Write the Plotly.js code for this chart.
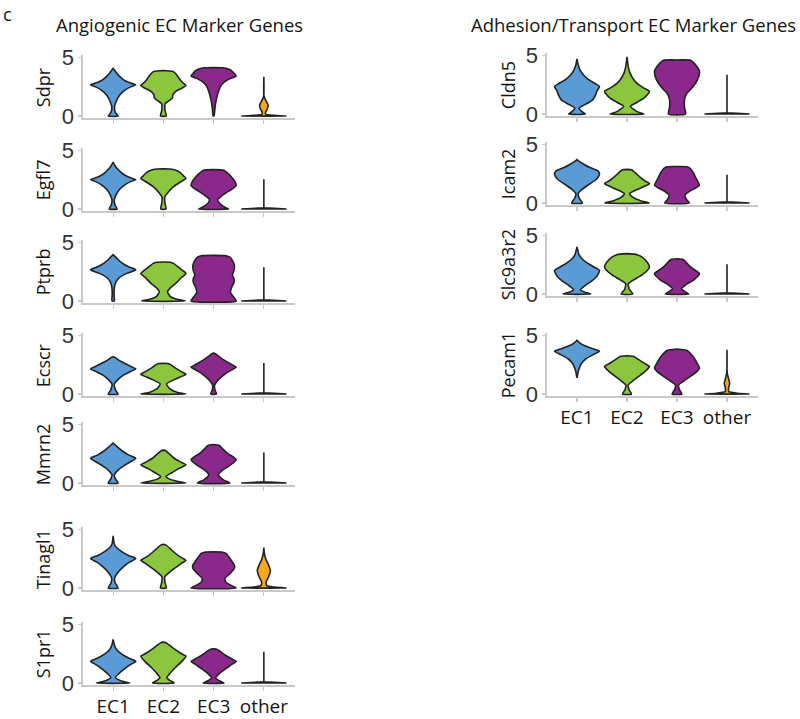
<!DOCTYPE html>
<html><head><meta charset="utf-8">
<script src="https://cdn.plot.ly/plotly-3.0.1.min.js"></script>
<style>html,body{margin:0;padding:0;background:#fff}#chart{width:800px;height:719px}</style>
</head><body><div id="chart"></div>
<script>
// ---------- data ----------
const groups = ["EC1", "EC2", "EC3", "other"];
const leftGenes = ["Sdpr", "Egfl7", "Ptprb", "Ecscr", "Mmrn2", "Tinagl1", "S1pr1"];
const rightGenes = ["Cldn5", "Icam2", "Slc9a3r2", "Pecam1"];
const leftTitle = "Angiogenic EC Marker Genes";
const rightTitle = "Adhesion/Transport EC Marker Genes";
const yTicks = [0, 5];

// violin density profiles: [expression level, relative half-width] from bottom to top, per group
const Sdpr = [
  [[0,0.22],[0.3,0.1],[0.8,0.06],[1.3,0.15],[1.8,0.3],[2.2,0.52],[2.5,0.8],[2.65,1.0],[2.85,0.7],[3.1,0.45],[3.5,0.22],[3.8,0.1],[4.05,0]],
  [[0,0.13],[0.5,0.07],[1.05,0.08],[1.3,0.25],[1.55,0.4],[1.8,0.42],[2.1,0.55],[2.4,0.85],[2.6,1.0],[2.85,0.85],[3.2,0.7],[3.6,0.55],[3.8,0.4],[3.87,0]],
  [[0,0.02],[0.5,0.05],[1.0,0.08],[1.5,0.13],[2.0,0.2],[2.5,0.3],[2.9,0.48],[3.2,0.75],[3.4,1.0],[3.6,0.92],[3.85,0.8],[4.0,0.65],[4.1,0.4],[4.12,0]],
  [[0,1.0],[0.06,0.45],[0.15,0.08],[0.35,0.08],[0.6,0.15],[0.9,0.19],[1.2,0.12],[1.5,0.04],[1.8,0],[3.35,0]]
];
const Egfl7 = [
  [[0,0.18],[0.35,0.08],[0.75,0.05],[1.2,0.13],[1.7,0.3],[2.1,0.55],[2.35,0.8],[2.5,1.0],[2.7,0.7],[3.0,0.42],[3.4,0.2],[3.7,0.08],[4.0,0]],
  [[0,0.12],[0.5,0.07],[1.0,0.06],[1.4,0.2],[1.9,0.45],[2.3,0.75],[2.6,1.0],[2.8,0.9],[3.1,0.75],[3.3,0.55],[3.4,0.3],[3.42,0]],
  [[0,0.66],[0.2,0.45],[0.5,0.25],[0.8,0.18],[1.1,0.35],[1.5,0.65],[1.85,0.92],[2.0,1.0],[2.3,0.95],[2.7,0.8],[3.05,0.62],[3.3,0.45],[3.35,0]],
  [[0,1.0],[0.05,0.45],[0.1,0],[2.53,0]]
];
const Ptprb = [
  [[0,0.05],[0.6,0.04],[1.2,0.06],[1.6,0.12],[2.0,0.28],[2.35,0.6],[2.65,1.0],[2.9,0.7],[3.2,0.42],[3.55,0.2],[3.8,0.08],[3.95,0]],
  [[0,0.96],[0.15,0.6],[0.4,0.3],[0.8,0.18],[1.1,0.3],[1.5,0.55],[2.0,0.8],[2.35,1.0],[2.6,0.85],[2.9,0.65],[3.2,0.45],[3.3,0.3],[3.32,0]],
  [[0,1.0],[0.3,0.9],[0.7,0.75],[1.1,0.78],[1.6,0.9],[1.9,0.9],[2.2,0.83],[2.6,0.9],[3.0,0.92],[3.4,0.85],[3.75,0.7],[3.86,0.5],[3.88,0]],
  [[0,1.0],[0.05,0.45],[0.1,0],[2.88,0]]
];
const Ecscr = [
  [[0,0.22],[0.35,0.1],[0.85,0.05],[1.2,0.2],[1.6,0.45],[1.95,0.8],[2.15,1.0],[2.4,0.72],[2.7,0.42],[2.95,0.2],[3.15,0.05],[3.17,0]],
  [[0,1.0],[0.15,0.6],[0.45,0.28],[0.85,0.14],[1.15,0.4],[1.45,0.75],[1.68,1.0],[1.95,0.75],[2.25,0.5],[2.5,0.32],[2.6,0.2],[2.62,0]],
  [[0,0.13],[0.35,0.06],[0.75,0.04],[1.2,0.2],[1.7,0.5],[2.05,0.8],[2.3,1.0],[2.55,0.75],[2.9,0.45],[3.25,0.2],[3.45,0.06],[3.5,0]],
  [[0,1.0],[0.05,0.45],[0.1,0],[2.64,0]]
];
const Mmrn2 = [
  [[0,0.22],[0.35,0.1],[0.7,0.05],[1.1,0.22],[1.5,0.5],[1.85,0.8],[2.1,1.0],[2.35,0.72],[2.7,0.42],[3.05,0.2],[3.3,0.06],[3.4,0]],
  [[0,1.0],[0.15,0.6],[0.35,0.25],[0.55,0.12],[0.85,0.35],[1.2,0.65],[1.55,1.0],[1.8,0.75],[2.15,0.45],[2.5,0.25],[2.75,0.1],[2.8,0]],
  [[0,0.72],[0.25,0.45],[0.55,0.25],[0.75,0.22],[1.1,0.4],[1.5,0.72],[1.98,1.0],[2.2,0.88],[2.55,0.6],[2.9,0.4],[3.2,0.25],[3.28,0]],
  [[0,1.0],[0.05,0.45],[0.1,0],[2.6,0]]
];
const Tinagl1 = [
  [[0,0.22],[0.4,0.1],[0.8,0.06],[1.3,0.2],[1.8,0.45],[2.2,0.72],[2.5,1.0],[2.75,0.7],[3.1,0.38],[3.45,0.15],[3.75,0.05],[4.1,0.02],[4.43,0]],
  [[0,0.13],[0.5,0.07],[0.95,0.06],[1.3,0.25],[1.75,0.55],[2.1,0.8],[2.35,1.0],[2.6,0.78],[3.0,0.5],[3.35,0.3],[3.65,0.12],[3.72,0]],
  [[0,1.0],[0.2,0.8],[0.5,0.55],[0.8,0.5],[1.2,0.7],[1.6,0.9],[1.9,0.93],[2.3,0.8],[2.7,0.65],[2.95,0.55],[3.07,0.35],[3.09,0]],
  [[0,1.0],[0.08,0.45],[0.2,0.13],[0.5,0.1],[1.0,0.22],[1.5,0.29],[2.0,0.2],[2.5,0.08],[3.0,0.02],[3.44,0]]
];
const S1pr1 = [
  [[0,0.74],[0.15,0.4],[0.45,0.1],[0.8,0.25],[1.2,0.5],[1.6,0.8],[1.85,1.0],[2.1,0.7],[2.45,0.38],[2.8,0.17],[3.2,0.06],[3.45,0.03],[3.7,0]],
  [[0,0.48],[0.2,0.3],[0.45,0.15],[0.8,0.28],[1.3,0.52],[1.8,0.8],[2.28,1.0],[2.55,0.75],[2.9,0.48],[3.25,0.25],[3.45,0.1],[3.48,0]],
  [[0,0.46],[0.2,0.25],[0.45,0.09],[0.8,0.25],[1.2,0.52],[1.6,0.82],[1.85,1.0],[2.1,0.75],[2.45,0.45],[2.75,0.25],[2.9,0.1],[2.92,0]],
  [[0,1.0],[0.05,0.45],[0.1,0],[2.66,0]]
];
const Cldn5 = [
  [[0,0.37],[0.2,0.22],[0.5,0.1],[0.8,0.35],[1.2,0.7],[1.6,0.82],[2.0,0.9],[2.35,1.0],[2.6,0.8],[2.95,0.5],[3.3,0.3],[3.7,0.15],[4.2,0.05],[4.68,0]],
  [[0,0.75],[0.2,0.45],[0.65,0.15],[1.0,0.45],[1.4,0.78],[1.93,1.0],[2.2,0.75],[2.6,0.45],[3.0,0.27],[3.5,0.13],[4.1,0.05],[4.86,0]],
  [[0,0.38],[0.6,0.33],[1.2,0.33],[1.7,0.42],[2.2,0.65],[2.7,0.85],[3.2,0.97],[3.65,1.0],[4.0,0.9],[4.35,0.75],[4.57,0.6],[4.6,0]],
  [[0,1.0],[0.05,0.45],[0.1,0],[3.35,0]]
];
const Icam2 = [
  [[0,0.24],[0.4,0.1],[0.8,0.05],[1.2,0.25],[1.6,0.55],[2.0,0.85],[2.3,0.97],[2.5,1.0],[2.75,0.92],[3.0,0.6],[3.3,0.3],[3.55,0.1],[3.7,0]],
  [[0,1.0],[0.2,0.6],[0.5,0.25],[0.8,0.12],[1.1,0.4],[1.4,0.75],[1.65,1.0],[1.9,0.78],[2.25,0.55],[2.6,0.35],[2.82,0.2],[2.86,0]],
  [[0,0.55],[0.3,0.42],[0.65,0.35],[1.0,0.55],[1.3,0.85],[1.5,1.0],[1.8,0.93],[2.2,0.82],[2.6,0.72],[2.95,0.58],[3.08,0.45],[3.1,0]],
  [[0,1.0],[0.05,0.45],[0.1,0],[2.4,0]]
];
const Slc9a3r2 = [
  [[0,0.62],[0.15,0.35],[0.35,0.15],[0.7,0.35],[1.1,0.65],[1.5,0.88],[2.0,1.0],[2.3,0.75],[2.65,0.45],[3.0,0.22],[3.4,0.08],[3.7,0.04],[4.0,0]],
  [[0,0.26],[0.4,0.1],[0.88,0.06],[1.2,0.3],[1.6,0.65],[2.0,0.9],[2.3,1.0],[2.7,0.9],[3.1,0.7],[3.35,0.45],[3.44,0]],
  [[0,0.52],[0.2,0.35],[0.45,0.2],[0.8,0.4],[1.2,0.75],[1.73,1.0],[2.0,0.82],[2.4,0.55],[2.75,0.38],[2.95,0.25],[3.0,0]],
  [[0,1.0],[0.05,0.45],[0.1,0],[2.53,0]]
];
const Pecam1 = [
  [[1.43,0.01],[1.8,0.04],[2.2,0.1],[2.6,0.2],[3.0,0.4],[3.35,0.72],[3.63,1.0],[3.85,0.7],[4.1,0.35],[4.35,0.12],[4.57,0]],
  [[0,0.2],[0.4,0.08],[0.77,0.05],[1.1,0.25],[1.5,0.52],[1.95,0.82],[2.34,1.0],[2.6,0.78],[2.95,0.5],[3.2,0.3],[3.26,0]],
  [[0,0.22],[0.4,0.1],[0.77,0.07],[1.1,0.3],[1.5,0.6],[1.9,0.88],[2.2,1.0],[2.6,0.9],[3.0,0.78],[3.4,0.62],[3.7,0.45],[3.83,0]],
  [[0,1.0],[0.07,0.45],[0.2,0.08],[0.5,0.07],[0.9,0.12],[1.3,0.07],[1.7,0.02],[2.1,0],[3.77,0]]
];
const profiles = {Sdpr, Egfl7, Ptprb, Ecscr, Mmrn2, Tinagl1, S1pr1, Cldn5, Icam2, Slc9a3r2, Pecam1};

// ---------- styling ----------
const fillColors = ["#5b9bd5", "#8cc63f", "#8b288c", "#f5a81c"];
const W = 800, H = 719;
const PXU = 11.75, YMIN = -0.17, YMAX = 5.17, HALF = 0.45;
const leftZero = [116, 209, 301, 394, 483, 588, 683];
const rightZero = [114, 203, 294, 394];
const cols = [
  {genes: leftGenes, zeros: leftZero, x0: 83, x1: 295, labelX: 43},
  {genes: rightGenes, zeros: rightZero, x0: 547, x1: 758, labelX: 508}
];
const TXT = "'Open Sans', 'Noto Sans', sans-serif";
const INK = "#141414";

const traces = [];
const layout = {
  width: W, height: H, margin: {l: 0, r: 0, t: 0, b: 0},
  paper_bgcolor: "#fff", plot_bgcolor: "#fff", showlegend: false,
  annotations: [], hovermode: false
};

let k = 0;
cols.forEach((col) => {
  col.genes.forEach((gene, gi) => {
    k++;
    const xa = "x" + (k === 1 ? "" : k), ya = "y" + (k === 1 ? "" : k);
    const xkey = "xaxis" + (k === 1 ? "" : k), ykey = "yaxis" + (k === 1 ? "" : k);
    const z = col.zeros[gi];
    const bottomPx = z - YMIN * PXU, topPx = z - YMAX * PXU;
    const last = gi === col.genes.length - 1;
    layout[xkey] = {
      domain: [col.x0 / W, col.x1 / W], range: [-0.6, 3.62], anchor: ya,
      tickmode: "array", tickvals: [0, 1, 2, 3], ticktext: groups,
      showticklabels: last, ticks: "outside", ticklen: 4, tickwidth: 1.2, tickcolor: "#c9c9c9",
      showline: true, linecolor: "#c9c9c9", linewidth: 1.6, showgrid: false, zeroline: false,
      tickfont: {family: TXT, size: 19, color: INK}, fixedrange: true
    };
    layout[ykey] = {
      domain: [1 - bottomPx / H, 1 - topPx / H], range: [YMIN, YMAX], anchor: xa,
      tickmode: "array", tickvals: yTicks, ticktext: yTicks.map(String),
      ticks: "outside", ticklen: 3, tickwidth: 1.2, tickcolor: "#c9c9c9",
      showline: true, linecolor: "#c9c9c9", linewidth: 1.6, showgrid: false, zeroline: false,
      tickfont: {family: "'Liberation Sans', Arial, sans-serif", size: 22, color: "#333"}, fixedrange: true
    };
    layout.annotations.push({
      text: gene, xref: "paper", x: col.labelX / W, yref: ya, y: 2.45,
      textangle: -90, showarrow: false, xanchor: "center", yanchor: "middle",
      font: {family: TXT, size: 18, color: INK}
    });
    profiles[gene].forEach((prof, g) => {
      const xs = [], ys = [];
      prof.forEach(([v, w]) => { xs.push(g - w * HALF); ys.push(v); });
      for (let i = prof.length - 1; i >= 0; i--) { xs.push(g + prof[i][1] * HALF); ys.push(prof[i][0]); }
      xs.push(xs[0]); ys.push(ys[0]);
      const plainTail = prof.slice(2).every(p => p[1] === 0);
      traces.push({
        type: "scatter", mode: "lines", x: xs, y: ys, xaxis: xa, yaxis: ya,
        fill: "toself", fillcolor: fillColors[g],
        line: plainTail ? {color: "#222", width: 1.6, shape: "linear"}
                        : {color: "#222", width: 1.6, shape: "spline", smoothing: 0.55},
        hoverinfo: "skip"
      });
    });
  });
});

layout.annotations.push(
  {text: leftTitle, xref: "paper", yref: "paper", x: 179 / W, y: 1 - 24 / H, showarrow: false,
   xanchor: "center", yanchor: "middle", font: {family: TXT, size: 18.5, color: INK}},
  {text: rightTitle, xref: "paper", yref: "paper", x: 633 / W, y: 1 - 24 / H, showarrow: false,
   xanchor: "center", yanchor: "middle", font: {family: TXT, size: 18.5, color: INK}},
  {text: "c", xref: "paper", yref: "paper", x: 1 / W, y: 1, showarrow: false,
   xanchor: "left", yanchor: "top", font: {family: TXT, size: 18, color: INK}}
);

Plotly.newPlot("chart", traces, layout, {staticPlot: true, displayModeBar: false});
</script>
</body></html>
